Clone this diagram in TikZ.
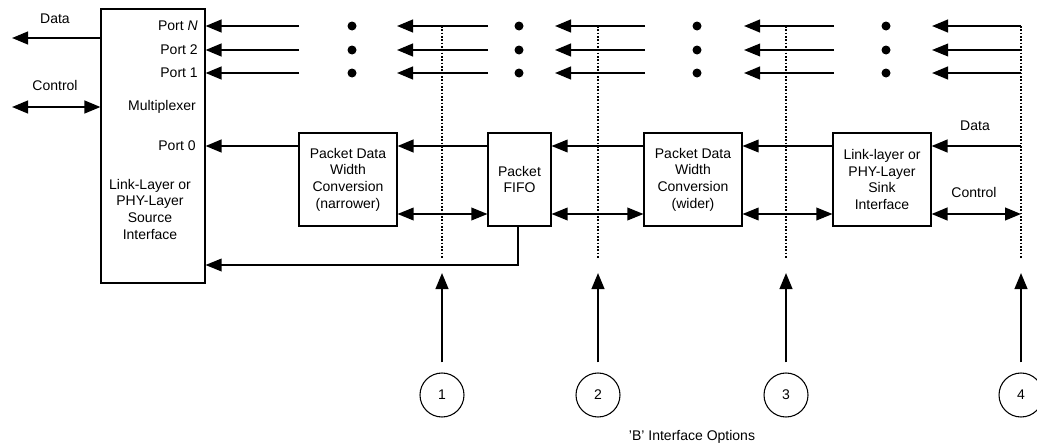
\documentclass[tikz,border=0pt]{standalone}
\usepackage{fontspec}
\setmainfont{Liberation Sans}
\usetikzlibrary{arrows.meta,calc}
\begin{document}
\begin{tikzpicture}[x=0.75pt,y=-0.75pt,
  font=\fontsize{10.5}{12.5}\selectfont,
  box/.style={draw,line width=0.8pt,inner sep=0pt,align=center},
  tip/.style={-{Triangle[length=12pt,width=9.5pt]}},
  dtip/.style={{Triangle[length=12pt,width=9.5pt]}-{Triangle[length=12pt,width=9.5pt]}},
  thk/.style={line width=1.6pt},
  thn/.style={line width=1pt},
  dotline/.style={line width=0.8pt,dash pattern=on 1.2pt off 1.3pt},
  lbl/.style={inner sep=0pt,align=center},
  dotnode/.style={circle,fill,inner sep=0pt,minimum size=6.75pt},
  opt/.style={circle,draw,line width=0.8pt,minimum size=33pt,inner sep=0pt}
]
\useasboundingbox (0,0) rectangle (1037,446);
\clip (0,0) rectangle (1037,446);

% boxes
\node[box,minimum width=78pt,minimum height=205.5pt] (mux) at (153,146) {};
\node[box,minimum width=73.5pt,minimum height=69.75pt] (narrow) at (348,179.5) {Packet Data\\Width\\Conversion\\(narrower)};
\node[box,minimum width=47.25pt,minimum height=69.75pt] (fifo) at (519.5,179.5) {Packet\\FIFO};
\node[box,minimum width=73.5pt,minimum height=69.75pt] (wider) at (693,179.5) {Packet Data\\Width\\Conversion\\(wider)};
\node[box,minimum width=73.5pt,minimum height=69.75pt] (sink) at (882,179.5) {Link-layer or\\PHY-Layer\\Sink\\Interface};

% mux labels
\node[lbl,anchor=east] (pN) at (198,26) {Port \textit{N}};
\node[lbl,anchor=east] (p2) at (198,50) {Port 2};
\node[lbl,anchor=east] (p1) at (198,73) {Port 1};
\node[lbl] (muxlbl) at (162,107) {Multiplexer};
\node[lbl,anchor=east] (p0) at (196,146) {Port 0};
\node[lbl] (srclbl) at (150,209) {Link-Layer or\\PHY-Layer\\Source\\Interface};

% left side data / control
\coordinate (dataend) at (12,38);
\draw[thk,tip] (mux.west |- dataend) -- (dataend);
\node[lbl] (datalbl) at (55,19) {Data};
\coordinate (ctlend) at (12,107);
\draw[thk,dtip] (ctlend) -- (mux.west |- ctlend);
\node[lbl] (ctllbl) at (55,85) {Control};

% port rows
\foreach \y/\n/\s in {26/N/thk,50/2/thn,73/1/thk}{
  \coordinate (a0\n) at (299,\y);
  \draw[thk,tip] (a0\n) -- (mux.east |- a0\n);
  \node[dotnode] (da\n) at (352,\y) {};
  \coordinate (a1s\n) at (488,\y); \coordinate (a1e\n) at (397,\y);
  \draw[thk,tip] (a1s\n) -- (a1e\n);
  \node[dotnode] (db\n) at (519,\y) {};
  \coordinate (a2s\n) at (645,\y); \coordinate (a2e\n) at (555,\y);
  \draw[thk,tip] (a2s\n) -- (a2e\n);
  \node[dotnode] (dc\n) at (697,\y) {};
  \coordinate (a3s\n) at (834,\y); \coordinate (a3e\n) at (744,\y);
  \draw[\s,tip] (a3s\n) -- (a3e\n);
  \node[dotnode] (dd\n) at (886,\y) {};
  \coordinate (a4s\n) at (1021,\y); \coordinate (a4e\n) at (932,\y);
  \draw[\s,tip] (a4s\n) -- (a4e\n);
}

% data path
\coordinate (dy) at (0,146);
\draw[thk,tip] (narrow.west |- dy) -- (mux.east |- dy);
\draw[thk,tip] (fifo.west |- dy) -- (narrow.east |- dy);
\draw[thn,tip] (wider.west |- dy) -- (fifo.east |- dy);
\draw[thn,tip] (sink.west |- dy) -- (wider.east |- dy);
\coordinate (dright) at (1021,146);
\draw[thk,tip] (dright) -- (sink.east |- dright);
\node[lbl] (datalbl2) at (975,126) {Data};

% control path
\coordinate (cy) at (0,214);
\draw[thn,dtip] (narrow.east |- cy) -- (fifo.west |- cy);
\draw[thn,dtip] (fifo.east |- cy) -- (wider.west |- cy);
\draw[thn,dtip] (wider.east |- cy) -- (sink.west |- cy);
\coordinate (cright) at (1021,214);
\draw[thk,dtip] (sink.east |- cright) -- (cright);
\node[lbl] (ctllbl2) at (974,192) {Control};

% feedback
\coordinate (fb) at (518,265);
\draw[thn,tip] (fifo.south -| fb) -- (fb) -- (mux.east |- fb);

% interface option lines
\foreach \x/\i in {442/1,598/2,786/3,1021/4}{
  \coordinate (vt\i) at (\x,26);
  \coordinate (vb\i) at (\x,259);
  \draw[dotline] (vt\i) -- (vb\i);
  \node[opt] (o\i) at (\x,395) {\i};
  \coordinate (u\i) at (\x,273);
  \draw[thk,tip] ([yshift=7.5pt]o\i.north) -- (u\i);
}
\node[lbl] (optlbl) at (692,437) {'B' Interface Options};
\end{tikzpicture}
\end{document}
